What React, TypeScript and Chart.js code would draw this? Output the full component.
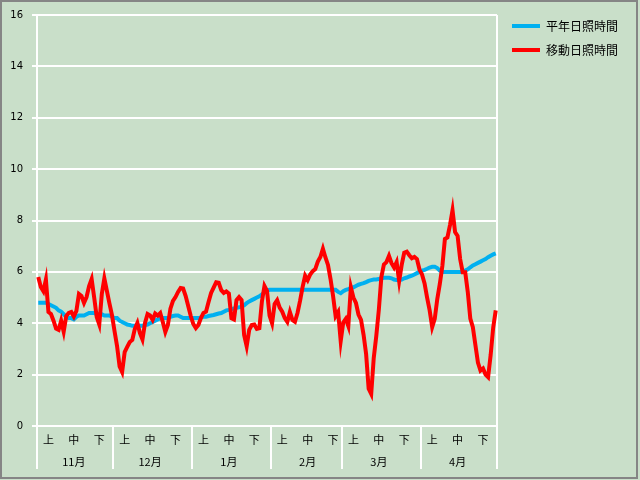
import React, { useEffect, useRef } from 'react';
import { Chart, registerables } from 'chart.js';

Chart.register(...registerables);

// ---- data ----
const MONTH_NUMBERS = [11, 12, 1, 2, 3, 4];
const MONTH_LABELS = ['11月', '12月', '1月', '2月', '3月', '4月'];
const MONTH_DAYS = [30, 31, 31, 28, 31, 30];
const DEKAD_LABELS = ['上', '中', '下'];
const SERIES_NAMES = ['平年日照時間', '移動日照時間'];

// 平年日照時間 (normal sunshine hours), daily Nov 1 .. Apr 30
const NORMAL = [
  // Nov
  4.8, 4.8, 4.8, 4.8, 4.75, 4.7, 4.65, 4.6, 4.5, 4.45,
  4.35, 4.25, 4.2, 4.2, 4.15, 4.25, 4.3, 4.3, 4.3, 4.35,
  4.4, 4.4, 4.4, 4.35, 4.35, 4.35, 4.3, 4.3, 4.3, 4.25,
  // Dec
  4.2, 4.2, 4.1, 4.05, 4.0, 3.95, 3.93, 3.9, 3.9, 3.9,
  3.9, 3.9, 3.93, 3.95, 4.0, 4.05, 4.1, 4.15, 4.2, 4.2,
  4.2, 4.2, 4.25, 4.28, 4.3, 4.3, 4.25, 4.2, 4.2, 4.2, 4.2,
  // Jan
  4.2, 4.2, 4.2, 4.23, 4.25, 4.25, 4.28, 4.3, 4.32, 4.35,
  4.38, 4.4, 4.45, 4.5, 4.52, 4.55, 4.58, 4.6, 4.62, 4.65,
  4.7, 4.78, 4.85, 4.9, 4.95, 5.0, 5.05, 5.12, 5.2, 5.27, 5.3,
  // Feb
  5.3, 5.3, 5.3, 5.3, 5.3, 5.3, 5.3, 5.3, 5.3, 5.3,
  5.3, 5.3, 5.3, 5.3, 5.3, 5.3, 5.3, 5.3, 5.3, 5.3,
  5.3, 5.3, 5.3, 5.3, 5.3, 5.3, 5.22, 5.17,
  // Mar
  5.25, 5.3, 5.33, 5.37, 5.4, 5.45, 5.5, 5.53, 5.56, 5.6,
  5.65, 5.68, 5.7, 5.7, 5.72, 5.75, 5.77, 5.77, 5.77, 5.75,
  5.7, 5.68, 5.68, 5.7, 5.75, 5.78, 5.82, 5.85, 5.9, 5.95, 6.0,
  // Apr
  6.05, 6.08, 6.12, 6.17, 6.2, 6.2, 6.15, 6.05, 6.0, 6.0,
  6.0, 6.0, 6.0, 6.0, 6.0, 6.0, 6.0, 6.05, 6.1, 6.18,
  6.25, 6.3, 6.35, 6.4, 6.45, 6.5, 6.57, 6.63, 6.68, 6.72
];

// 移動日照時間 (moving sunshine hours), daily Nov 1 .. Apr 30
const MOVING = [
  // Nov
  5.8, 5.41, 5.25, 5.7, 4.44, 4.36, 4.1, 3.79, 3.74, 4.1,
  3.67, 4.28, 4.4, 4.44, 4.26, 4.48, 5.14, 5.06, 4.79, 5.02,
  5.45, 5.72, 5.0, 4.24, 3.95, 5.14, 5.75, 5.26, 4.77, 4.32,
  // Dec
  3.7, 3.11, 2.32, 2.1, 2.88, 3.08, 3.27, 3.35, 3.78, 4.01,
  3.62, 3.37, 4.01, 4.36, 4.3, 4.13, 4.38, 4.3, 4.4, 4.05,
  3.66, 3.93, 4.57, 4.87, 5.02, 5.22, 5.37, 5.35, 5.06, 4.67, 4.28,
  // Jan
  3.97, 3.81, 3.93, 4.2, 4.4, 4.45, 4.83, 5.18, 5.39, 5.6,
  5.58, 5.29, 5.18, 5.24, 5.16, 4.2, 4.15, 4.9, 5.02, 4.9,
  3.54, 3.1, 3.74, 3.93, 3.95, 3.78, 3.81, 4.85, 5.45, 5.26, 4.3,
  // Feb
  4.0, 4.75, 4.9, 4.61, 4.45, 4.2, 4.05, 4.44, 4.13, 4.06,
  4.4, 4.87, 5.41, 5.85, 5.68, 5.9, 6.03, 6.11, 6.4, 6.58,
  6.9, 6.56, 6.27, 5.72, 5.06, 4.28, 4.44, 3.3,
  // Mar
  4.03, 4.17, 3.89, 5.4, 5.0, 4.79, 4.34, 4.13, 3.55, 2.8,
  1.45, 1.25, 2.65, 3.5, 4.52, 5.8, 6.29, 6.38, 6.62, 6.34,
  6.17, 6.38, 5.64, 6.27, 6.75, 6.79, 6.65, 6.53, 6.58, 6.5, 6.09,
  // Apr
  5.9, 5.55, 5.0, 4.5, 3.85, 4.17, 4.94, 5.53, 6.23, 7.28,
  7.34, 7.82, 8.4, 7.55, 7.4, 6.5, 5.99, 5.99, 5.22, 4.18,
  3.85, 3.15, 2.47, 2.16, 2.24, 2.0, 1.9, 2.76, 3.83, 4.5
];

const Y_MIN = 0;
const Y_MAX = 16;
const Y_STEP = 2;

// categories: one per day
const CATEGORIES: string[] = [];
const MONTH_START_INDEX: number[] = [];
MONTH_DAYS.forEach((n, m) => {
  MONTH_START_INDEX.push(CATEGORIES.length);
  for (let d = 1; d <= n; d++) CATEGORIES.push(`${MONTH_NUMBERS[m]}/${d}`);
});

// ---- styles ----
const BG = '#C9DFC9';
const BLUE = '#00B0F0';
const RED = '#FF0000';
const WHITE = '#FFFFFF';

const framePlugin = {
  id: 'frame',
  beforeDraw(chart: any) {
    const { ctx, width, height } = chart;
    ctx.save();
    ctx.fillStyle = BG;
    ctx.fillRect(0, 0, width, height);
    ctx.strokeStyle = '#858585';
    ctx.lineWidth = 2;
    ctx.strokeRect(1, 1, width - 4, height - 3);
    ctx.restore();
  }
};

function tickLabel(index: number): string | string[] {
  const [m, d] = CATEGORIES[index].split('/').map(Number);
  const mi = MONTH_NUMBERS.indexOf(m);
  if (d === 5) return DEKAD_LABELS[0];
  if (d === 15) return [DEKAD_LABELS[1], MONTH_LABELS[mi]];
  if (d === 25) return DEKAD_LABELS[2];
  return '';
}

export default function App() {
  const canvasRef = useRef<HTMLCanvasElement | null>(null);

  useEffect(() => {
    if (!canvasRef.current) return;
    const chart = new Chart(canvasRef.current, {
      type: 'line',
      data: {
        labels: CATEGORIES,
        datasets: [
          {
            label: SERIES_NAMES[0],
            data: NORMAL,
            borderColor: BLUE,
            backgroundColor: BLUE,
            borderWidth: 4,
            pointRadius: 0,
            tension: 0,
            order: 1
          },
          {
            label: SERIES_NAMES[1],
            data: MOVING,
            borderColor: RED,
            backgroundColor: RED,
            borderWidth: 4,
            pointRadius: 0,
            tension: 0,
            order: 0
          }
        ]
      },
      options: {
        responsive: false,
        animation: false,
        events: [],
        layout: { padding: { top: 8, left: 2, right: 12, bottom: 11 } },
        plugins: {
          tooltip: { enabled: false },
          title: { display: false },
          legend: {
            display: true,
            position: 'right',
            align: 'start',
            maxWidth: 300,
            labels: {
              boxWidth: 28,
              boxHeight: 4,
              padding: 12,
              color: '#000000',
              font: { family: '"Noto Sans CJK JP", sans-serif', size: 12 },
              sort: (a: any, b: any) => a.datasetIndex - b.datasetIndex,
              generateLabels: (c: any) => {
                const items = (Chart.defaults.plugins.legend.labels as any).generateLabels(c);
                return items.map((it: any) => ({ ...it, fillStyle: it.strokeStyle, lineWidth: 0 }));
              }
            }
          }
        },
        scales: {
          x: {
            type: 'category',
            offset: true,
            border: { display: false },
            grid: {
              display: true,
              offset: true,
              drawOnChartArea: true,
              drawTicks: true,
              tickLength: 43,
              lineWidth: 2,
              tickWidth: 2,
              color: (ctx: any) => {
                if (ctx.type !== 'tick' || ctx.index === 0) return WHITE;
                return 'rgba(0,0,0,0)';
              },
              tickColor: (ctx: any) => {
                if (ctx.type !== 'tick') return WHITE;
                return MONTH_START_INDEX.includes(ctx.index) ? WHITE : 'rgba(0,0,0,0)';
              }
            },
            ticks: {
              autoSkip: false,
              maxRotation: 0,
              minRotation: 0,
              padding: -40,
              color: '#000000',
              font: { family: '"Noto Sans CJK JP", sans-serif', size: 11, lineHeight: '22px' },
              callback: (_v: any, index: number) => tickLabel(index)
            },
            afterFit: (s: any) => { s.height = 43; }
          },
          y: {
            type: 'linear',
            position: 'left',
            min: Y_MIN,
            max: Y_MAX,
            border: { display: false },
            grid: {
              color: WHITE,
              lineWidth: 2,
              tickColor: WHITE,
              tickLength: 5,
              tickWidth: 2
            },
            ticks: {
              stepSize: Y_STEP,
              padding: 9,
              color: '#000000',
              font: { family: '"DejaVu Sans", sans-serif', size: 10 }
            },
            afterFit: (s: any) => { s.width = 35; s.paddingTop = 15; }
          },
          yR: {
            type: 'linear',
            position: 'right',
            min: Y_MIN,
            max: Y_MAX,
            border: { display: false },
            grid: { display: true, drawOnChartArea: false, drawTicks: false },
            ticks: { display: false },
            afterFit: (s: any) => { s.width = 3; }
          }
        }
      } as any,
      plugins: [framePlugin]
    });
    return () => chart.destroy();
  }, []);

  return (
    <div style={{ position: 'fixed', left: 0, top: 0, width: 640, height: 480, background: BG }}>
      <canvas ref={canvasRef} width={640} height={480} style={{ display: 'block' }} />
    </div>
  );
}
